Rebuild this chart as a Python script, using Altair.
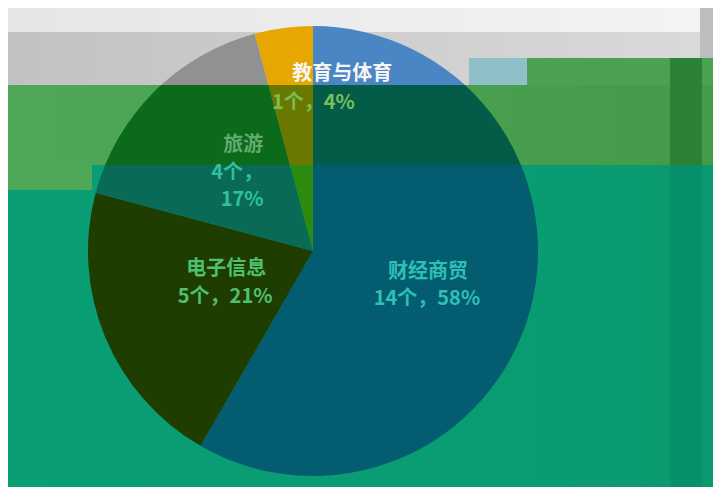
import altair as alt
import pandas as pd

# ---- data ----
categories = ["财经商贸", "电子信息", "旅游", "教育与体育"]
counts = [14, 5, 4, 1]
percents = ["58%", "21%", "17%", "4%"]

df = pd.DataFrame({
    "category": categories,
    "count": counts,
    "pct": percents,
    "idx": list(range(len(categories))),
})
df["line1"] = df["category"]
df["line2"] = df["count"].astype(str) + "个，" + df["pct"]
df["line2a"] = df["count"].astype(str) + "个，"
df["line2b"] = df["pct"]

# ---- layout / style ----
W = 705
CX = 305
R = 225
R_LAB = 120
CY = 243  # pie centre, measured from chart top
FONT = "Noto Sans CJK SC"
FS = 20

BANDS = {"A": (0, 77), "B": (77, 80), "C": (157, 322)}

SLICE_COLORS = {
    "A": ["#4A86C4", "#8A3A12", "#919191", "#E6A800"],
    "B": ["#035C48", "#1E5A06", "#0B6B1A", "#6B7800"],
    "C": ["#045C70", "#1F3D00", "#0A6A58", "#2C8A0E"],
}


def hgrad(c0, c1):
    return alt.LinearGradient(
        gradient="linear", x1=0, x2=1, y1=0, y2=0,
        stops=[alt.GradientStop(color=c0, offset=0), alt.GradientStop(color=c1, offset=1)],
    )


BACKGROUNDS = {
    "A": [
        (0, W, 0, 24, hgrad("#E6E6E6", "#F4F4F4")),
        (0, W, 24, 78, hgrad("#C2C2C2", "#DADADA")),
        (692, W, 0, 50, "#BDBDBD"),
        (461, W, 50, 78, "#4CA252"),
        (461, 519, 50, 78, "#8FC0C8"),
        (662, 694, 50, 78, "#2C8234"),
    ],
    "B": [
        (0, W, 0, 81, hgrad("#4EA858", "#459A4A")),
        (662, 694, 0, 81, "#2C8234"),
    ],
    "C": [
        (0, W, 0, 322, hgrad("#0A9E74", "#099A70")),
        (662, 694, 0, 322, "#07906A"),
        (0, 84, 0, 25, "#4EA858"),
    ],
}

# (category, text field, band, dx, dy, colour)
LABELS = [
    ("教育与体育", "line1", "A", 45, -58, "#F6F6F6"),
    ("教育与体育", "line2", "B", 16, -29, "#78BE58"),
    ("旅游", "line1", "B", 15, -21, "#62AA70"),
    ("旅游", "line2a", "C", 9, 7, "#30C09A"),
    ("旅游", "line2b", "C", 14, 34, "#30C09A"),
    ("电子信息", "line1", "C", 24, -28, "#4EC070"),
    ("电子信息", "line2", "C", 23, 0, "#4EC070"),
    ("财经商贸", "line1", "C", -1, -10, "#2EC0B4"),
    ("财经商贸", "line2", "C", -2, 17, "#2EC0B4"),
]


def band(name):
    top, h = BANDS[name]
    cy = CY - top
    layers = []
    for x0, x1, y0, y1, col in BACKGROUNDS[name]:
        layers.append(
            alt.Chart(alt.Data(values=[{"k": 1}]))
            .mark_rect(color=col, clip=True)
            .encode(x=alt.value(x0), x2=alt.value(x1), y=alt.value(y0), y2=alt.value(y1))
        )
    cols = SLICE_COLORS[name]
    expr = "[" + ",".join(f"'{c}'" for c in cols) + "][datum.idx]"
    layers.append(
        alt.Chart(df)
        .transform_calculate(fillc=expr)
        .mark_arc(radius=R, clip=True)
        .encode(
            theta=alt.Theta("count:Q", stack=True),
            color=alt.Color("fillc:N", scale=None, legend=None),
            order=alt.Order("idx:Q", sort="ascending"),
            x=alt.value(CX),
            y=alt.value(cy),
        )
    )
    for cat, field, b, dx, dy, col in LABELS:
        if b != name:
            continue
        layers.append(
            alt.Chart(df)
            .transform_joinaggregate(total="sum(count)")
            .transform_window(cum="sum(count)", sort=[alt.SortField("idx")], frame=[None, 0])
            .transform_calculate(
                mid="(datum.cum - datum.count / 2) / datum.total * 2 * PI",
            )
            .transform_calculate(
                px=f"{CX} + {R_LAB} * sin(datum.mid)",
                py=f"{cy} - {R_LAB} * cos(datum.mid)",
            )
            .transform_filter(alt.datum.category == cat)
            .mark_text(
                dx=dx, dy=dy, font=FONT, fontSize=FS, fontWeight="bold",
                color=col, align="center", baseline="middle",
            )
            .encode(
                x=alt.X("px:Q", scale=None, axis=None),
                y=alt.Y("py:Q", scale=None, axis=None),
                text=alt.Text(f"{field}:N"),
            )
        )
    return alt.layer(*layers).properties(width=W, height=h)


chart = (
    alt.vconcat(band("A"), band("B"), band("C"), spacing=0, bounds="flush")
    .properties(padding=0, background="white")
    .configure_view(stroke=None)
    .configure_concat(spacing=0)
)

chart.save("out.html", embed_options={"renderer": "svg", "actions": False})
